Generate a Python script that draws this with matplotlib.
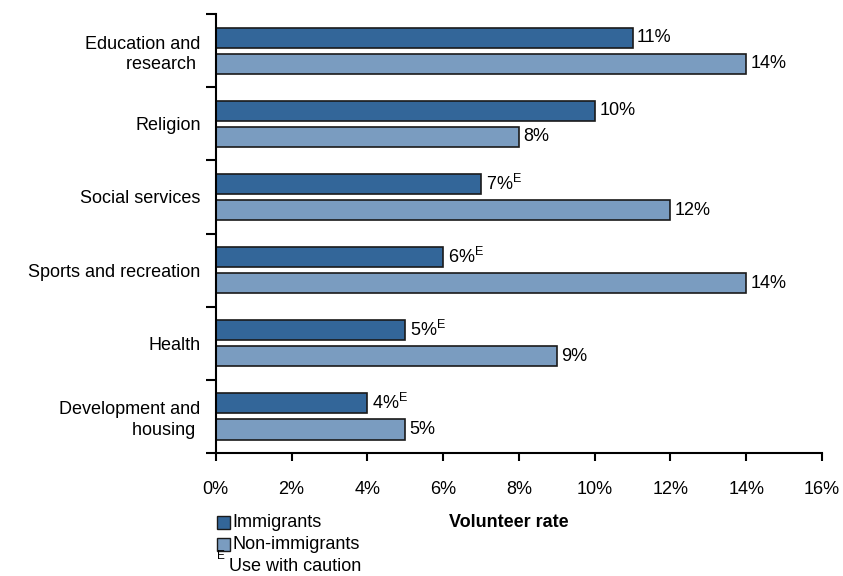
import numpy as np
import matplotlib.pyplot as plt
from matplotlib.ticker import FuncFormatter, FixedLocator
from matplotlib.patches import Rectangle

plt.rcParams["font.family"] = ["Liberation Sans", "DejaVu Sans"]

categories = [
    "Education and\nresearch ",
    "Religion",
    "Social services",
    "Sports and recreation",
    "Health",
    "Development and\nhousing ",
]
immigrants = [11, 10, 7, 6, 5, 4]
non_immigrants = [14, 8, 12, 14, 9, 5]
# sample too small for these estimates -> flagged with "E"
immigrants_caution = [False, False, True, True, True, True]
non_immigrants_caution = [False, False, False, False, False, False]

dark = "#336699"
light = "#7a9cc0"
fs = 13

fig = plt.figure(figsize=(8.43, 5.76), dpi=100)
ax = fig.add_axes([0.256, 0.2135, 0.719, 0.762])

y = np.arange(len(categories))
off = 0.178
h = 0.275
ax.barh(y - off, immigrants, height=h, color=dark, edgecolor="#1a1a1a", linewidth=1.2)
ax.barh(y + off, non_immigrants, height=h, color=light, edgecolor="#1a1a1a", linewidth=1.2)


def add_labels(yy, vals, flags):
    for yi, v, f in zip(yy, vals, flags):
        txt = f"{v}%" + (r"$^{\mathregular{E}}$" if f else "")
        ax.text(v + 0.12, yi, txt, va="center", ha="left", fontsize=fs)


add_labels(y - off, immigrants, immigrants_caution)
add_labels(y + off, non_immigrants, non_immigrants_caution)

ax.set_xlim(0, 16)
ax.set_ylim(len(categories) - 0.5, -0.5)
ax.set_xticks(np.arange(0, 17, 2))
ax.xaxis.set_major_formatter(FuncFormatter(lambda v, _: f"{v:.0f}%"))
ax.set_yticks(y)
ax.set_yticklabels(categories)
for lbl in ax.get_yticklabels():
    lbl.set_multialignment("right")
    lbl.set_linespacing(1.28)
ax.yaxis.set_minor_locator(FixedLocator(np.arange(-0.5, len(categories), 1)))
ax.tick_params(axis="y", which="major", length=0, pad=11, labelsize=fs)
ax.tick_params(axis="y", which="minor", length=7, width=1.5, direction="out")
ax.tick_params(axis="x", length=6, width=1.5, direction="out", pad=14, labelsize=fs)

for side in ("top", "right"):
    ax.spines[side].set_visible(False)
for side in ("left", "bottom"):
    ax.spines[side].set_linewidth(1.5)

fig.text(0.604, 0.093, "Volunteer rate", ha="center", va="center",
         fontsize=fs, fontweight="bold")

# legend drawn by hand in the lower-left corner
for i, (c, name) in enumerate([(dark, "Immigrants"), (light, "Non-immigrants")]):
    yy = 0.093 - i * 0.038
    fig.patches.append(Rectangle((0.257, yy - 0.011), 0.0155, 0.022,
                                 transform=fig.transFigure, facecolor=c,
                                 edgecolor="#1a1a1a", linewidth=1.0))
    fig.text(0.276, yy, name, ha="left", va="center", fontsize=fs)
fig.text(0.257, 0.034, "E", ha="left", va="center", fontsize=8.5)
fig.text(0.272, 0.017, "Use with caution", ha="left", va="center", fontsize=fs)

fig.savefig("out.png", dpi=100)
